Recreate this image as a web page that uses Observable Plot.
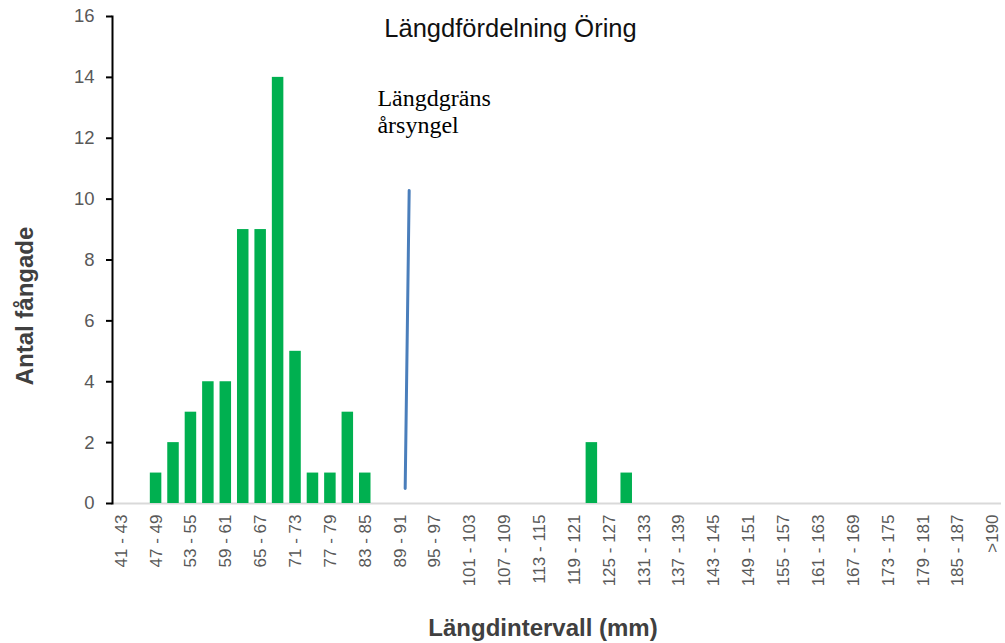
<!DOCTYPE html>
<html>
<head>
<meta charset="utf-8">
<script src="https://cdn.jsdelivr.net/npm/d3@7"></script>
<script src="https://cdn.jsdelivr.net/npm/@observablehq/plot@0.6"></script>
<style>
  html, body { margin: 0; padding: 0; background: #fff; }
  #chart svg { display: block; }
</style>
</head>
<body>
<div id="chart"></div>
<script>
// Length classes (mm)
const categories = [
  "41 - 43","44 - 46","47 - 49","50 - 52","53 - 55","56 - 58","59 - 61","62 - 64","65 - 67","68 - 70",
  "71 - 73","74 - 76","77 - 79","80 - 82","83 - 85","86 - 88","89 - 91","92 - 94","95 - 97","98 - 100",
  "101 - 103","104 - 106","107 - 109","110 - 112","113 - 115","116 - 118","119 - 121","122 - 124","125 - 127","128 - 130",
  "131 - 133","134 - 136","137 - 139","140 - 142","143 - 145","146 - 148","149 - 151","152 - 154","155 - 157","158 - 160",
  "161 - 163","164 - 166","167 - 169","170 - 172","173 - 175","176 - 178","179 - 181","182 - 184","185 - 187","188 - 190",
  ">190"
];
// Number caught per class (classes not listed: 0)
const caughtClasses = ["47 - 49","50 - 52","53 - 55","56 - 58","59 - 61","62 - 64","65 - 67","68 - 70","71 - 73","74 - 76","77 - 79","80 - 82","83 - 85","122 - 124","128 - 130"];
const caughtCounts  = [1, 2, 3, 4, 4, 9, 9, 14, 5, 1, 1, 3, 1, 2, 1];

// Hand-drawn limit line for young-of-the-year (position in class index units)
const limitPos = [16.29, 16.52];
const limitVal = [0.49, 10.28];

const yTicks = [0, 2, 4, 6, 8, 10, 12, 14, 16];
const shownTickClasses = categories.filter((c, i) => i % 2 === 0);

const title = "Längdfördelning Öring";
const annotation = ["Längdgräns\nårsyngel"];
const annotationPos = [{x: 14.70, y: 13.72}];
const xLabel = "Längdintervall (mm)";
const yLabel = "Antal fångade";

const idx = c => categories.indexOf(c);
const bars = caughtClasses.map((c, i) => ({cat: c, n: caughtCounts[i]}));
const limitLine = limitPos.map((p, i) => ({pos: p, n: limitVal[i]}));
const annData = annotation.map((t, i) => ({text: t, ...annotationPos[i]}));

const plot = Plot.plot({
  width: 1005,
  height: 643,
  marginLeft: 112,
  marginRight: 4,
  marginTop: 16,
  marginBottom: 140,
  style: {fontFamily: "'Liberation Sans', Arial, sans-serif", background: "#fff"},
  x: {type: "linear", domain: [-0.5, categories.length - 0.5]},
  y: {domain: [0, 16]},
  marks: [
    Plot.ruleY([0], {stroke: "#d9d9d9", strokeWidth: 2}),
    Plot.rectY(bars, {x1: d => idx(d.cat) - 0.33, x2: d => idx(d.cat) + 0.33, y1: 0, y2: "n", fill: "#00b050"}),
    Plot.line(limitLine, {x: "pos", y: "n", stroke: "#4a7ebb", strokeWidth: 3}),
    Plot.frame({anchor: "left", stroke: "black", strokeWidth: 2}),
    Plot.axisY({ticks: yTicks, tickSize: 6, tickPadding: 12, fontSize: 18.5, stroke: "black", strokeWidth: 2, fill: "#595959", label: null}),
    Plot.axisX({ticks: shownTickClasses.map(idx), tickFormat: i => categories[i], tickRotate: -90, tickSize: 0, tickPadding: 11, fontSize: 17, fill: "#595959", label: null}),
    Plot.text([title], {frameAnchor: "top-left", dx: 398, dy: 12, lineAnchor: "middle", textAnchor: "middle", fontSize: 25.5, fill: "#111"}),
    Plot.text(annData, {x: "x", y: "y", text: "text", textAnchor: "start", lineAnchor: "top", fontSize: 24, lineHeight: 1.15, fontFamily: "'Liberation Serif', 'Times New Roman', serif", fill: "#000"}),
    Plot.text([xLabel], {frameAnchor: "bottom", dx: -14, dy: 125, lineAnchor: "middle", fontSize: 24, fontWeight: "bold", fill: "#404040"}),
    Plot.text([yLabel], {frameAnchor: "left", dx: -87, dy: 46, rotate: -90, lineAnchor: "middle", textAnchor: "middle", fontSize: 24, fontWeight: "bold", fill: "#404040"})
  ]
});
document.getElementById("chart").append(plot);
</script>
</body>
</html>
